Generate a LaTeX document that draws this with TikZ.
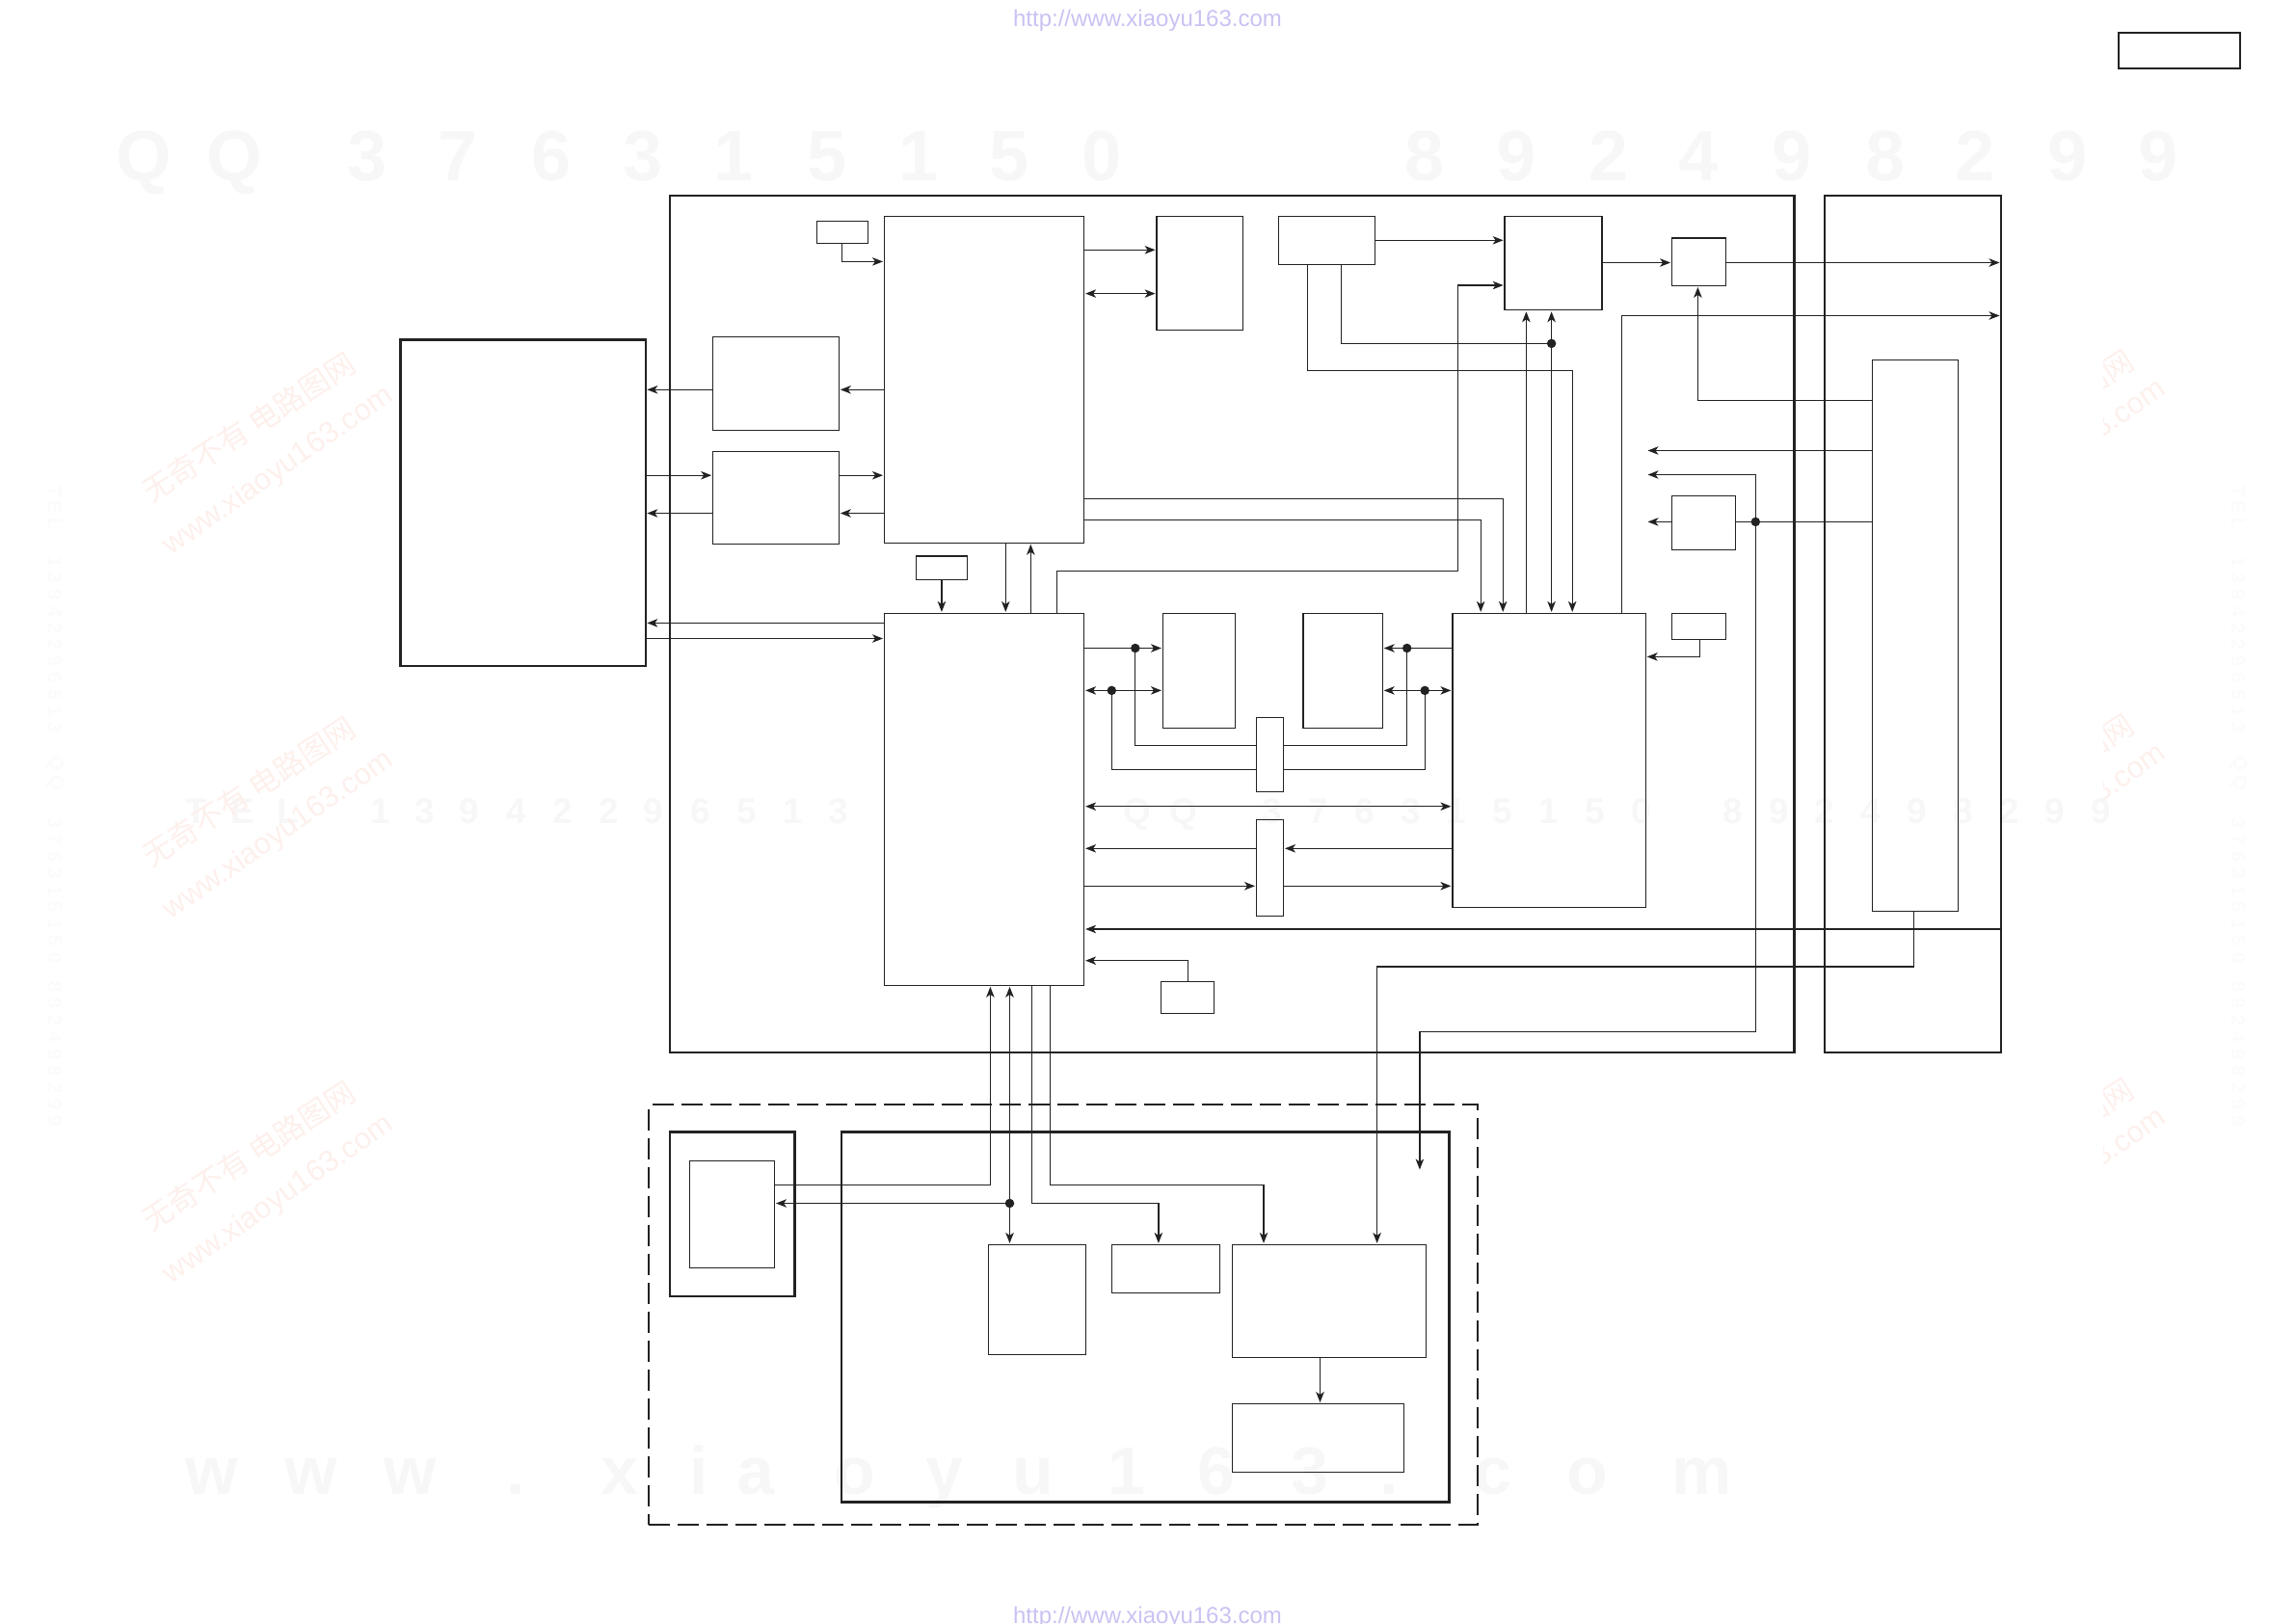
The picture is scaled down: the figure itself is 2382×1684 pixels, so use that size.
\documentclass[tikz,border=0pt]{standalone}
\usepackage{fontspec}
\setmainfont{Liberation Sans}
\newfontfamily\cjkwm{Noto Sans CJK SC}
\usetikzlibrary{arrows.meta}
\definecolor{ink}{HTML}{222222}
\definecolor{wmgray}{HTML}{F7F7F7}
\definecolor{wmside}{HTML}{FBFBFB}
\definecolor{wmurl}{HTML}{C9C2F2}
\definecolor{wmred}{HTML}{FDF0EC}
\tikzset{
  x=1pt,y=-1pt,
  boxthin/.style={draw=ink,line width=1.3pt,inner sep=0pt,outer sep=0pt},
  boxthick/.style={draw=ink,line width=2.6pt,inner sep=0pt,outer sep=0pt},
  boxmid/.style={draw=ink,line width=1.7pt,inner sep=0pt,outer sep=0pt},
  boxdash/.style={draw=ink,line width=2.4pt,inner sep=0pt,outer sep=0pt,dash pattern=on 22pt off 8pt},
  wire/.style={draw=ink,line width=1.2pt},
  conn/.style={wire,-{Stealth[length=11pt,width=8.5pt,inset=3pt]},shorten >=1.5pt},
  conndbl/.style={wire,{Stealth[length=11pt,width=8.5pt,inset=3pt]}-{Stealth[length=11pt,width=8.5pt,inset=3pt]},shorten >=1.5pt,shorten <=1.5pt},
  junct/.style={circle,fill=ink,draw=none,minimum size=9.5pt,inner sep=0pt,outer sep=0pt},
  wmbig/.style={text=wmgray,anchor=base,inner sep=0pt,font=\fontsize{74}{80}\selectfont\bfseries},
  wmwww/.style={text=wmgray,anchor=base,inner sep=0pt,font=\fontsize{70}{76}\selectfont\bfseries},
  wmmid/.style={text=wmgray,anchor=base,inner sep=0pt,font=\fontsize{37}{40}\selectfont\bfseries},
  wmsidech/.style={text=wmside,inner sep=0pt,font=\fontsize{20}{22}\selectfont\bfseries},
  wmlink/.style={text=wmurl,anchor=base,inner sep=0pt,font=\fontsize{24}{26}\selectfont},
  wmcjk/.style={text=wmred,inner sep=0pt,rotate=33,font=\fontsize{31}{34}\selectfont\cjkwm},
  wmdiag/.style={text=wmred,inner sep=0pt,rotate=35,font=\fontsize{31}{34}\selectfont},
}
\newcommand{\bx}[6]{\node[#6,minimum width={(#4-#2)*1pt},minimum height={(#5-#3)*1pt}] (#1) at ({(#2+#4)/2},{(#3+#5)/2}) {};}
\begin{document}
\begin{tikzpicture}
\useasboundingbox (0,0) rectangle (2382,1684);
% watermarks
\foreach \c/\p in {Q/149,Q/243,3/381,7/475,6/572,3/667,1/761,5/858,1/953,5/1047,0/1143,8/1478,9/1573,2/1669,4/1762,9/1859,8/1956,2/2049,9/2145,9/2239}
  \node[wmbig,name=wa\p] at (\p,187) {\c};
\foreach \c/\p in {T/204,E/252,L/299,1/395,3/441,9/487,4/536,2/584,2/632,9/678,6/727,5/775,1/823,3/870,Q/1180,Q/1228,3/1320,7/1368,6/1416,3/1464,1/1511,5/1559,1/1607,5/1655,0/1703,8/1798,9/1846,2/1893,4/1941,9/1989,8/2037,2/2085,9/2132,9/2180}
  \node[wmmid,name=wb\p] at (\p,854) {\c};
\foreach \c/\p in {w/220,w/323,w/426,./535,x/643,i/725,a/784,o/887,y/980,u/1072,1/1169,6/1262,3/1359,./1441,c/1549,o/1647,m/1766}
  \node[wmwww,name=wc\p] at (\p,1550) {\c};
\foreach \c/\p in {T/510,E/526,L/544,1/583,3/600,9/617,4/635,2/652,2/669,9/686,6/703,5/721,1/738,3/755,Q/792,Q/812,3/854,7/871,6/889,3/906,1/924,5/941,1/959,5/976,0/994,8/1024,9/1041,2/1059,4/1076,9/1094,8/1111,2/1129,9/1146,9/1163}{
  \node[wmsidech,rotate=-90,name=wd\p] at (57,\p) {\c};
  \node[wmsidech,rotate=-90,name=we\p] at (2322,\p) {\c};
}
\foreach \dy in {0,378,756}{
  \node[wmcjk,name=wf\dy] at (258,443+\dy) {无奇不有 电路图网};
  \node[wmdiag,name=wg\dy] at (289,489+\dy) {www.xiaoyu163.com};
}
\begin{scope}
\clip (2182,300) rectangle (2382,1300);
\foreach \dy in {0,378,756}{
  \node[wmcjk,name=wh\dy] at (2103,440+\dy) {无奇不有 电路图网};
  \node[wmdiag,name=wi\dy] at (2128,482+\dy) {www.xiaoyu163.com};
}
\end{scope}
\node[wmlink,name=urla] at (1190.5,27.5) {http://www.xiaoyu163.com};
\node[wmlink,name=urlb] at (1190.5,1684) {http://www.xiaoyu163.com};
% boxes
\bx{ext}{415.7}{352.5}{669.8}{691}{boxthick}
\bx{frA}{694.8}{202.9}{1861.7}{1092}{boxthick}
\bx{frB}{1892.8}{202.9}{2076}{1092}{boxthick}
\bx{tr}{2197.8}{34.3}{2324}{71.3}{boxmid}
\bx{sma}{847.3}{229.3}{900.4}{252.5}{boxthin}
\bx{ma}{917.5}{224.3}{1124.6}{563.2}{boxthin}
\bx{ba}{739.7}{349.3}{870.3}{446.4}{boxthin}
\bx{bb}{739.7}{468.2}{870.3}{564.3}{boxthin}
\bx{smb}{950.4}{577.1}{1003.5}{601.4}{boxthin}
\bx{mb}{917.5}{636.4}{1124.6}{1022.3}{boxthin}
\bx{c}{1200.1}{224.3}{1289.4}{342.5}{boxthin}
\bx{d}{1326.4}{224.3}{1426.5}{274.6}{boxthin}
\bx{e}{1561.1}{224.3}{1661.9}{321.8}{boxthin}
\bx{f}{1734.6}{247.1}{1790.7}{296.4}{boxthin}
\bx{g}{1942.5}{373.3}{2031.7}{945.6}{boxthin}
\bx{ii}{1734.6}{514.3}{1800.3}{570.4}{boxthin}
\bx{h}{1506.9}{636.4}{1707.2}{941.3}{boxthin}
\bx{j}{1734.6}{636.4}{1790.7}{663.2}{boxthin}
\bx{k}{1206.5}{636.4}{1281.5}{755.3}{boxthin}
\bx{l}{1351.9}{636.4}{1434.2}{755.3}{boxthin}
\bx{mm}{1303.5}{744.3}{1331.5}{821.3}{boxthin}
\bx{n}{1303.5}{850.3}{1331.5}{950.3}{boxthin}
\bx{o}{1204.6}{1018.3}{1259.5}{1051.3}{boxthin}
\bx{dashfr}{673.2}{1146.1}{1533.1}{1581.9}{boxdash}
\bx{p}{695}{1174.7}{824.2}{1344.8}{boxthick}
\bx{q}{715.7}{1204.4}{803.5}{1315.8}{boxthin}
\bx{r}{873}{1174.7}{1503.3}{1558.2}{boxthick}
\bx{s}{1025.7}{1291.4}{1126.7}{1405.4}{boxthin}
\bx{t}{1153.7}{1291.4}{1265.6}{1341.8}{boxthin}
\bx{u}{1278.3}{1291.4}{1479.8}{1408.4}{boxthin}
\bx{v}{1278.3}{1456.6}{1456.8}{1527.3}{boxthin}
% junctions
\node[junct] (ja) at (1609.6,356.4) {};
\node[junct] (jb) at (1821.3,541.4) {};
\node[junct] (jc) at (1177.8,672.5) {};
\node[junct] (jd) at (1153.3,716.4) {};
\node[junct] (je) at (1459.7,672.5) {};
\node[junct] (jf) at (1478.2,716.4) {};
\node[junct] (jg) at (1047.5,1248.5) {};
% free ends
\coordinate (ta) at (1708,467.5);
\coordinate (tb) at (1708,492.5);
\coordinate (tc) at (1708,541.4);
\coordinate (td) at (1472.9,1215);
% connectors
\draw[conn] (sma.south) |- (ma.west |- 0,271.4);
\draw[conn] (ma.east |- 0,259.3) -- (c.west |- 0,259.3);
\draw[conndbl] (ma.east |- 0,304.6) -- (c.west |- 0,304.6);
\draw[conn] (ma.west |- 0,404.3) -- (ba.east |- 0,404.3);
\draw[conn] (ba.west |- 0,404.3) -- (ext.east |- 0,404.3);
\draw[conn] (ext.east |- 0,493.2) -- (bb.west |- 0,493.2);
\draw[conn] (bb.east |- 0,493.2) -- (ma.west |- 0,493.2);
\draw[conn] (ma.west |- 0,532.5) -- (bb.east |- 0,532.5);
\draw[conn] (bb.west |- 0,532.5) -- (ext.east |- 0,532.5);
\draw[conn] (mb.west |- 0,646.4) -- (ext.east |- 0,646.4);
\draw[conn] (ext.east |- 0,662.5) -- (mb.west |- 0,662.5);
\draw[conn] (smb.south) -- (mb.north -| smb.south);
\draw[conn] (ma.south -| 1043.3,0) -- (mb.north -| 1043.3,0);
\draw[conn] (mb.north -| 1069.3,0) -- (ma.south -| 1069.3,0);
\draw[conn] (mb.north -| 1096.3,0) |- (1512.6,592.5) |- (e.west |- 0,296);
\draw[conn] (ma.east |- 0,517.5) -| (h.north -| 1559.2,0);
\draw[conn] (ma.east |- 0,539.3) -| (h.north -| 1536.2,0);
\draw[conn] (d.east |- 0,249.3) -- (e.west |- 0,249.3);
\draw[wire] (d.south -| 1391.5,0) |- (ja.center);
\draw[conn] (d.south -| 1356.4,0) |- (1631.2,384.3) -- (h.north -| 1631.2,0);
\draw[conndbl] (e.south -| ja.center) -- (h.north -| ja.center);
\draw[conn] (h.north -| 1583.4,0) -- (e.south -| 1583.4,0);
\draw[conn] (e.east |- 0,272.5) -- (f.west |- 0,272.5);
\draw[conn] (f.east |- 0,272.5) -- (frB.east |- 0,272.5);
\draw[conn] (h.north -| 1682.3,0) |- (frB.east |- 0,327.5);
\draw[conn] (g.west |- 0,415.4) -| (f.south -| 1761.4,0);
\draw[conn] (g.west |- 0,467.5) -- (ta);
\draw[wire] (g.west |- 0,541.4) -- (ii.east |- 0,541.4);
\draw[conn] (ii.west |- 0,541.4) -- (tc);
\draw[conn] (jb.center) |- (tb);
\draw[conn] (jb.center) |- (1472.9,1070.3) -- (td);
\draw[conn] (g.south -| 1985.3,0) |- (1428.6,1003) -- (u.north -| 1428.6,0);
\draw[conn] (frB.east |- 0,964) -- (mb.east |- 0,964);
\draw[conn] (j.south -| 1763.3,0) |- (h.east |- 0,681.4);
\draw[conn] (o.north -| 1232.7,0) |- (mb.east |- 0,996.7);
\draw[conn] (mb.east |- 0,672.5) -- (k.west |- 0,672.5);
\draw[conndbl] (mb.east |- 0,716.4) -- (k.west |- 0,716.4);
\draw[wire] (jc.center) |- (mm.west |- 0,773.3);
\draw[wire] (jd.center) |- (mm.west |- 0,798.3);
\draw[conn] (h.west |- 0,672.5) -- (l.east |- 0,672.5);
\draw[conndbl] (l.east |- 0,716.4) -- (h.west |- 0,716.4);
\draw[wire] (je.center) |- (mm.east |- 0,773.3);
\draw[wire] (jf.center) |- (mm.east |- 0,798.3);
\draw[conndbl] (mb.east |- 0,836.7) -- (h.west |- 0,836.7);
\draw[conn] (h.west |- 0,880.3) -- (n.east |- 0,880.3);
\draw[conn] (n.west |- 0,880.3) -- (mb.east |- 0,880.3);
\draw[conn] (mb.east |- 0,919.3) -- (n.west |- 0,919.3);
\draw[conn] (n.east |- 0,919.3) -- (h.west |- 0,919.3);
\draw[conn] (q.east |- 0,1229.3) -| (mb.south -| 1027.4,0);
\draw[conn] (jg.center) -- (mb.south -| jg.center);
\draw[conn] (jg.center) -- (s.north -| jg.center);
\draw[conn] (jg.center) -- (q.east |- jg.center);
\draw[conn] (mb.south -| 1070.4,0) |- (1201.9,1248.5) -- (t.north -| 1201.9,0);
\draw[conn] (mb.south -| 1089.4,0) |- (1311,1229.3) -- (u.north -| 1311,0);
\draw[conn] (u.south -| 1369.5,0) -- (v.north -| 1369.5,0);
\end{tikzpicture}
\end{document}
